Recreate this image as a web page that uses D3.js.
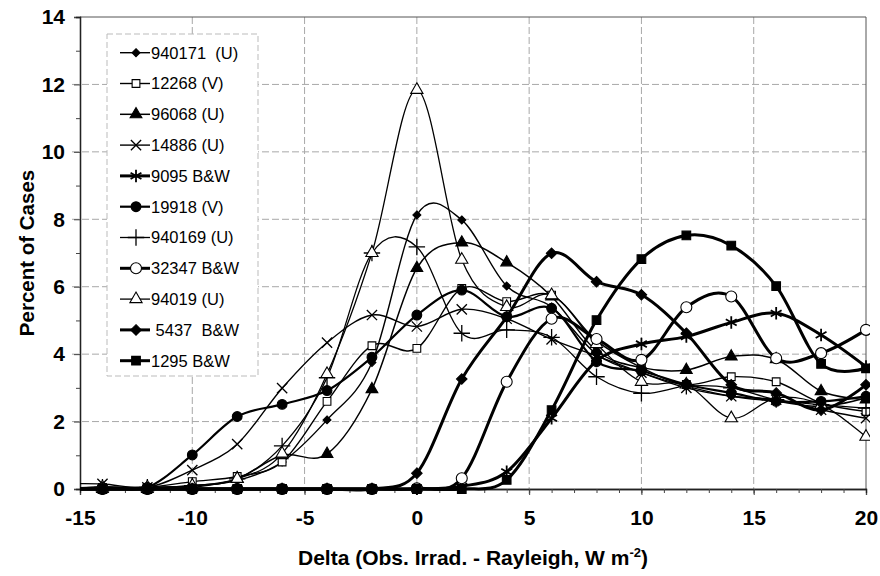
<!DOCTYPE html>
<html>
<head>
<meta charset="utf-8">
<script src="https://cdn.jsdelivr.net/npm/d3@7"></script>
<style>
  html, body { margin: 0; padding: 0; background: #fff; }
  svg { display: block; font-family: "Liberation Sans", Arial, sans-serif; }
</style>
</head>
<body>
<svg id="chart" width="880" height="576"></svg>
<script>
// Delta bins (W m-2); the first bin lies just left of the axis and is clipped
const deltas = [-16, -14, -12, -10, -8, -6, -4, -2, 0, 2, 4, 6, 8, 10, 12, 14, 16, 18, 20];

const seriesNames = ["940171  (U)", "12268 (V)", "96068 (U)", "14886 (U)", "9095 B&W", "19918 (V)",
                     "940169 (U)", "32347 B&W", "94019 (U)", " 5437  B&W", "1295 B&W"];

// Percent of cases per bin
const v940171 = [0, 0, 0, 0.1, 0.25, 0.8, 2.05, 3.75, 8.13, 7.98, 6.02, 5.4, 4.0, 3.45, 3.05, 2.75, 2.6, 2.45, 2.7];
const v12268  = [0, 0.05, 0.05, 0.22, 0.37, 0.8, 2.6, 4.25, 4.17, 5.95, 5.56, 5.75, 4.4, 3.6, 3.1, 3.33, 3.18, 2.55, 2.3];
const v96068  = [0, 0, 0, 0.05, 0.3, 1.0, 1.04, 2.96, 6.55, 7.31, 6.72, 5.71, 4.1, 3.6, 3.53, 3.93, 3.85, 2.9, 2.65];
const v14886  = [0.15, 0.15, 0.05, 0.56, 1.33, 2.99, 4.34, 5.16, 4.82, 5.33, 5.05, 4.44, 3.95, 3.45, 3.0, 2.75, 2.65, 2.35, 2.1];
const v9095   = [0, 0, 0, 0, 0, 0, 0, 0, 0, 0.08, 0.51, 2.1, 3.8, 4.3, 4.52, 4.94, 5.21, 4.57, 3.63];
const v19918  = [0, 0.05, 0.05, 1.01, 2.15, 2.51, 2.92, 3.91, 5.16, 5.9, 5.11, 5.36, 3.78, 3.5, 3.1, 2.85, 2.6, 2.6, 2.75];
const v940169 = [0, 0.05, 0.05, 0.1, 0.3, 1.28, 3.3, 7.0, 7.18, 4.62, 4.72, 4.5, 3.33, 2.84, 3.05, 3.0, 2.65, 2.5, 2.4];
const v32347  = [0, 0, 0, 0, 0, 0, 0, 0, 0.02, 0.32, 3.18, 5.05, 4.45, 3.83, 5.39, 5.71, 3.88, 4.03, 4.72];
const v94019  = [0, 0.05, 0.05, 0.1, 0.3, 1.05, 3.41, 7.0, 11.84, 6.8, 5.4, 5.75, 4.3, 3.18, 3.1, 2.1, 2.7, 2.5, 1.55];
const v5437   = [0, 0, 0, 0, 0, 0, 0, 0, 0.47, 3.26, 5.1, 6.99, 6.15, 5.76, 4.62, 3.09, 2.85, 2.34, 3.09];
const v1295   = [0, 0, 0, 0, 0, 0, 0, 0, 0, 0, 0.27, 2.34, 5.01, 6.82, 7.52, 7.22, 6.02, 3.71, 3.58];

const seriesValues = [v940171, v12268, v96068, v14886, v9095, v19918, v940169, v32347, v94019, v5437, v1295];

const xTicks = [-15, -10, -5, 0, 5, 10, 15, 20];
const yTicks = [0, 2, 4, 6, 8, 10, 12, 14];

// Line weight and marker per series
const styles = [
  { w: 1.4, sym: d3.symbolDiamond2, size: 40,  fill: "#000" },
  { w: 1.4, sym: d3.symbolSquare,   size: 60,  fill: "#fff" },
  { w: 1.5, sym: d3.symbolTriangle, size: 60,  fill: "#000" },
  { w: 1.4, sym: d3.symbolTimes,    size: 70,  fill: "none", stroke: true },
  { w: 3.0, sym: d3.symbolAsterisk, size: 110, fill: "none", stroke: true },
  { w: 2.2, sym: d3.symbolCircle,   size: 75,  fill: "#000" },
  { w: 1.3, sym: d3.symbolPlus,     size: 90,  fill: "none", stroke: true },
  { w: 3.0, sym: d3.symbolCircle,   size: 95,  fill: "#fff" },
  { w: 1.3, sym: d3.symbolTriangle, size: 65,  fill: "#fff" },
  { w: 3.0, sym: d3.symbolDiamond2, size: 70,  fill: "#000" },
  { w: 3.0, sym: d3.symbolSquare,   size: 75,  fill: "#000" }
];

const svg = d3.select("#chart");
const x = d3.scaleLinear().domain([-15, 20]).range([80, 866]);
const y = d3.scaleLinear().domain([0, 14]).range([489, 17]);

svg.append("defs").append("clipPath").attr("id", "plotClip")
  .append("rect").attr("x", 80).attr("y", 10).attr("width", 790).attr("height", 485);

// Grid
const grid = svg.append("g").attr("stroke", "#a8a8a8").attr("stroke-width", 1).attr("stroke-dasharray", "7,3");
grid.selectAll("line.h").data(yTicks.filter(t => t > 0 && t < 14)).join("line")
  .attr("x1", 72).attr("x2", x(20)).attr("y1", d => y(d)).attr("y2", d => y(d));
grid.selectAll("line.v").data(xTicks.filter(t => t > -15 && t < 20)).join("line")
  .attr("x1", d => x(d)).attr("x2", d => x(d)).attr("y1", y(14)).attr("y2", y(0) + 6);

// Plot border (top and right)
svg.append("path")
  .attr("d", `M${x(-15)},${y(14)}H${x(20)}V${y(0)}`)
  .attr("fill", "none").attr("stroke", "#555").attr("stroke-width", 1);

// Legend box
const lg = svg.append("g");
lg.append("rect").attr("x", 107).attr("y", 34).attr("width", 151).attr("height", 342)
  .attr("fill", "#fff").attr("stroke", "#bbb").attr("stroke-width", 1).attr("stroke-dasharray", "6,3");

// Axes
const fmt = d => String(d);
const yAxis = svg.append("g").attr("transform", `translate(${x(-15)},0)`)
  .call(d3.axisLeft(y).tickValues(yTicks).tickSize(6).tickPadding(9).tickFormat(fmt));
const yMinor = svg.append("g").attr("transform", `translate(${x(-15)},0)`)
  .call(d3.axisLeft(y).tickValues(d3.range(1, 14, 2)).tickSize(4).tickFormat(""));
const xAxis = svg.append("g").attr("transform", `translate(0,${y(0)})`)
  .call(d3.axisBottom(x).tickValues(xTicks).tickSize(6).tickPadding(15).tickFormat(fmt));
const xMinor = svg.append("g").attr("transform", `translate(0,${y(0)})`)
  .call(d3.axisBottom(x).tickValues(d3.range(-14, 20, 1)).tickSize(4).tickFormat(""));

[yAxis, yMinor, xAxis, xMinor].forEach(g => {
  g.select(".domain").attr("stroke", "#222").attr("stroke-width", 1.3);
  g.selectAll(".tick line").attr("stroke", "#444");
  g.selectAll(".tick text").attr("fill", "#000").style("font-size", "21px").style("font-weight", "bold")
    .style("font-family", '"Liberation Sans", Arial, sans-serif');
});

// Series lines and markers
const line = d3.line().x(d => x(d[0])).y(d => y(d[1])).curve(d3.curveCardinal.tension(0));
const plot = svg.append("g").attr("clip-path", "url(#plotClip)");

function drawMarker(sel, st) {
  sel.attr("d", d3.symbol().type(st.sym).size(st.size)())
    .attr("fill", st.stroke ? "none" : st.fill)
    .attr("stroke", "#000")
    .attr("stroke-width", st.stroke ? (st.w >= 2.5 ? 1.8 : 1.3) : 1.1);
}

const order = [0, 1, 2, 3, 6, 8, 5, 4, 7, 9, 10];
order.forEach(i => {
  const pts = deltas.map((d, k) => [d, seriesValues[i][k]]);
  const st = styles[i];
  plot.append("path").attr("d", line(pts)).attr("fill", "none")
    .attr("stroke", "#000").attr("stroke-width", st.w).attr("stroke-linejoin", "round");
  plot.selectAll(null).data(pts.filter(p => p[0] >= -15)).join("path")
    .attr("transform", p => `translate(${x(p[0])},${y(p[1])})`)
    .call(drawMarker, st);
});

// Legend entries
seriesNames.forEach((name, i) => {
  const cy = 52.7 + i * 30.8;
  const st = styles[i];
  lg.append("line").attr("x1", 120).attr("x2", 150).attr("y1", cy).attr("y2", cy)
    .attr("stroke", "#000").attr("stroke-width", st.w);
  lg.append("path").attr("transform", `translate(136,${cy})`).call(drawMarker, st);
  lg.append("text").attr("x", 151).attr("y", cy).attr("dy", "0.36em")
    .attr("xml:space", "preserve").style("white-space", "pre")
    .style("font-size", "16.5px").text(name);
});

// Axis titles
svg.append("text").attr("transform", "translate(34,253) rotate(-90)")
  .attr("text-anchor", "middle").style("font-size", "20.5px").style("font-weight", "bold")
  .text("Percent of Cases");

const xt = svg.append("text").attr("x", 473).attr("y", 565).attr("text-anchor", "middle")
  .style("font-size", "21px").style("font-weight", "bold");
xt.append("tspan").text("Delta (Obs. Irrad. - Rayleigh, W m");
xt.append("tspan").attr("dy", -8).style("font-size", "13px").text("-2");
xt.append("tspan").attr("dy", 8).text(")");
</script>
</body>
</html>
